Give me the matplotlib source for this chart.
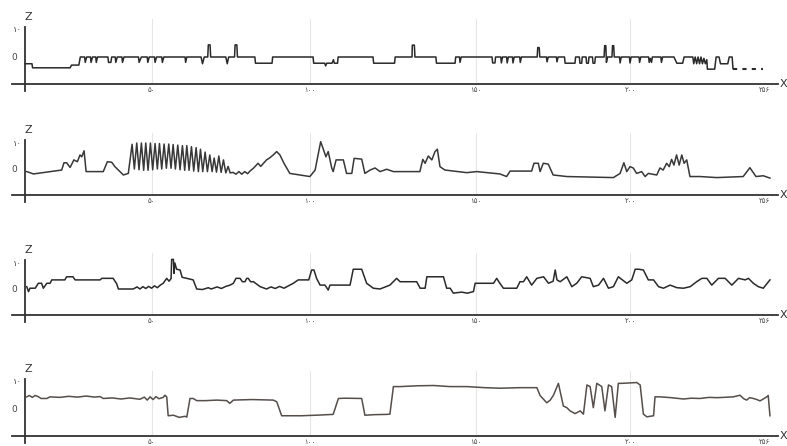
import matplotlib.pyplot as plt
import numpy as np

plt.rcParams['font.family'] = ['DejaVu Sans']

# x ticks (sample index positions as drawn) and Persian labels
tick_pos = [43.5, 98, 155, 208, 254]
tick_labels = ['۵۰', '۱۰۰', '۱۵۰', '۲۰۰', '۲۵۶']
ytick_vals = [10, 0]
ytick_labels = ['۱۰', '0']

# signal 1 (step-like)
s1 = [(0, -2.5), (2.4, -2.5), (2.6, -4), (15.5, -4), (16, -3), (18.5, -3), (19, 0),
      (20.5, 0), (20.7, -2), (21.2, 0), (22.5, 0), (22.7, -2), (23.2, 0), (24.3, 0), (24.5, -2), (24.9, 0),
      (28.5, 0), (28.7, -2), (29.5, -2), (29.8, 0), (31, 0), (31.2, -2), (31.7, 0), (33.3, 0), (33.5, -2), (34, 0),
      (39, 0), (39.2, -2), (40, 0), (42, 0), (42.2, -2), (42.7, 0), (44.5, 0), (44.7, -2), (45.2, 0),
      (47, 0), (47.2, -2), (47.7, 0), (55, 0), (55.2, -2), (55.6, 0), (60.5, 0), (61, -2.5), (61.6, 0),
      (62.8, 0), (63, 4.5), (63.6, 4.5), (63.8, 0), (69, 0), (69.5, -2.5), (70, 0),
      (72, 0), (72.2, 4.5), (72.8, 4.5), (73, 0), (79, 0), (79.2, -2.3), (84.9, -2.3), (85.1, 0),
      (99, 0), (99.2, -2.3), (103, -2.3), (103.3, -3.3), (103.7, -2.3), (105.5, -2.3), (106, -1),
      (106.3, -2.3), (107.4, -2.3), (107.6, 0), (119.6, 0), (119.8, -2.3), (127, -2.3), (127.2, 0),
      (133, 0), (133.1, 4.4), (133.8, 4.4), (134, 0), (141.2, 0), (141.4, -2.3), (147.8, -2.3), (148, 0),
      (149.3, 0), (149.5, -2), (149.9, 0),
      (160.5, 0), (160.7, -2.2), (161.5, -2.2), (161.7, 0), (163.5, 0), (163.7, -2.2), (164.1, 0),
      (165.5, 0), (165.7, -2.2), (166.1, 0), (167.5, 0), (167.7, -2.2), (168.1, 0), (170, 0), (170.2, -2), (170.6, 0),
      (176, 0), (176.2, 3.5), (176.7, 3.5), (176.9, 0), (179.2, 0), (179.4, -1.8), (179.8, 0),
      (182.6, 0), (182.8, -1.8), (183.2, 0), (185.4, 0), (185.6, -2.3), (189, -2.3), (189.2, 0),
      (190.5, 0), (190.7, -2.3), (191.3, -2.3), (191.5, 0), (192.8, 0), (193, -2.3), (193.6, -2.3), (193.8, 0),
      (195, 0), (195.2, -2.3), (195.8, -2.3), (196, 0),
      (199, 0), (199.2, 4.2), (199.6, 4.2), (199.8, -2), (200.2, 0), (201.7, 0), (201.9, 4.2), (202.3, 4.2), (202.5, 0),
      (204.3, 0), (204.5, -2.2), (204.9, 0), (207.7, 0), (207.9, -2.2), (208.3, 0), (211, 0), (211.2, -2), (211.6, 0),
      (214.3, 0), (214.5, -2), (214.9, -0.5), (215.3, -2), (215.6, 0), (218.5, 0), (218.7, -2), (219.1, 0),
      (223, 0), (224, -2.3), (226, -2.3), (226.5, 0),
      (229.5, 0), (229.8, -2.5), (230.3, 0), (230.8, -2.5), (231.3, 0), (231.8, -2.5), (232.3, 0),
      (232.8, -2.5), (233.3, -0.5), (233.8, -2.5), (234.3, -1), (234.5, -4.5), (237, -4.5),
      (237.5, 0), (238.5, 0), (239, -2.5), (241.5, -2.5), (242, 0), (243, 0), (243.3, -4.3)]
s1_tail = [(243.3, -4.3), (253.6, -4.3)]

# signal 2 (oscillating)
s2_head = [(0.6, -1), (2.9, -1.9), (12.6, -0.4), (13.4, 2.4), (14.3, 2.4), (15.5, 0.6), (16.8, 3.5),
           (18, 2.8), (18.9, 5.4), (19.5, 4.7), (20.3, 7.0), (21, -1), (26.9, -1), (28.3, 2.8),
           (29.8, 2.6), (30.9, 0.9), (33.8, -2.3), (35.5, -1.7)]
s2_peak_x = [36.8, 38.4, 40.0, 41.5, 43.1, 44.7, 46.2, 47.8, 49.4, 50.9, 52.5, 54.1, 55.6, 57.2, 58.8, 60.3, 61.9]
s2_peak_y = [9.5, 10, 10, 10, 10, 9.8, 9.8, 9.6, 9.6, 9.4, 9.2, 9.0, 9.0, 8.6, 8.2, 7.6, 6.5]
s2_trough_y = [0, -0.3, -0.5, -0.5, -0.3, 0, 0, 0.3, 0.3, 0, -0.3, -0.5, -0.5, -0.8, -1, -1, -1]
s2_tail = [(63.5, 5.4), (64.3, -1), (65, 4.2), (65.8, -1.2), (66.6, 5), (67.4, -1.3), (68.2, 3.5), (69, -1.5),
           (69.8, 1), (70.5, -1.5), (71.5, -1.3), (72.5, -2), (73.5, -1), (74.5, -2), (75.5, -1), (76.5, -1.8),
           (77.3, -0.8), (78.5, 0.3), (80.1, 2.2), (81, 1), (83, 3.5), (84, 4.2), (85.3, 5.4), (86.5, 6.7),
           (87.6, 5.4), (89, 2.2), (91, -1.7), (94.5, -2.3), (97.9, -2.9), (99.7, -0.4), (100.8, 6),
           (101.6, 10.5), (102.4, 8), (103.4, 4.7), (104.2, 6.7), (105.4, 0.4), (105.9, -1), (106.9, 3.5),
           (109.4, 3.5), (110.5, -1.7), (112.3, -1.7), (113.1, 4.1), (115.7, 3.8), (116.8, -1.7),
           (118.6, -0.4), (120.3, 0.4), (122, -1), (124.3, -0.1), (126.6, -1), (128.9, -1),
           (135.7, -1), (136.7, 3.7), (137.5, 2.2), (138.6, 5), (139.8, 3.5), (140.9, 6.7), (141.7, 7.6),
           (142.6, 0.9), (144.3, -0.4), (151.8, -1.4), (155.2, -1), (163.2, -1.9), (165.5, -2.9),
           (166.7, -0.8), (174.1, -0.8), (174.9, 2.2), (176.4, 2.2), (177, -1), (178.1, 2.2), (179.8, 1.9),
           (181.5, -2.3), (186.2, -2.9), (202.2, -3.3), (204.5, -1.7), (205.8, 2.4), (206.8, -1),
           (207.9, 0.9), (209, 0.4), (210.2, -1.7), (211.9, -1), (213.1, -2.9), (214.2, -1.7), (217.1, -2.3),
           (218.2, 0.4), (219.3, -0.4), (220.5, 2.2), (221.4, 0.9), (222.2, 3.7), (223, 1.5), (223.9, 5.4),
           (224.8, 1.5), (225.7, 5.4), (226.5, 2.2), (227.4, 3.5), (228.5, -2.9), (232, -2.9), (237.7, -3.3),
           (246.8, -2.9), (249.1, 0.5), (251.2, -2.9), (253.7, -2.6), (256, -3.5)]

# signal 3
s3 = [(0.6, 0.9), (1.2, -1), (1.7, 0.3), (3.5, 0.3), (4.6, 2.2), (5.7, 2.2), (6.3, 0.3), (7.5, 2.2),
      (8.6, 2.2), (9.2, 3.5), (13.7, 3.5), (14.3, 4.7), (16.5, 4.7), (17.2, 3.5), (25.8, 3.5), (26.4, 4.1),
      (30.3, 4.1), (31.5, 2), (32.1, 0), (37.2, 0), (38.5, 0.8), (39.5, 0), (40.5, 0.9), (41.5, 0.2),
      (42.5, 1), (43.5, 0.3), (44.5, 1.2), (45.5, 0.5), (46.5, 1.5), (47.5, 2.2), (48.7, 4.1), (49.5, 3),
      (50.2, 4), (50.4, 11.4), (51, 11.4), (51.2, 6), (51.5, 10), (52.1, 7.6), (53.3, 7.3), (54, 4.5),
      (55.6, 4.1), (57.8, 3.5), (59, 0), (61, -0.2), (63, 0.5), (64, 0), (66, 0.8), (67.5, 0.2), (69, 1),
      (70.5, 1.5), (71.6, 2.2), (72.5, 4.1), (73.9, 4.1), (74.7, 2.8), (75.6, 2.8), (76.2, 4.1), (76.7, 4.1),
      (77.5, 2.8), (78.5, 2.8), (80.8, 0.9), (83, 0), (84.5, 0.8), (86, 0.2), (87.5, 1), (89, 0.3),
      (90.5, 1.2), (92.2, 2.2), (93.9, 3.5), (97.5, 3.5), (98.5, 7.3), (99.3, 7.3), (100.2, 4.1),
      (101.4, 1.5), (103.1, 1.5), (104.2, -0.4), (104.8, 1.5), (111.7, 1.5), (112.8, 7.6), (115.7, 7.6),
      (117.4, 2.2), (119.7, 0.3), (122, 0), (125.4, 1.5), (127.7, 4.1), (128.9, 2.8), (134.6, 2.8),
      (135.8, 0.3), (137.5, 0.3), (138.1, 4.7), (143.8, 4.7), (144.9, 0.3), (146.1, 0.3), (147.2, -1.6),
      (150, -1.2), (152, -1.6), (154.1, -1), (154.7, 2.2), (161, 2.2), (162.1, 4.1), (163, 2.5),
      (164.4, 0.3), (169, 0.3), (170.1, 2.8), (171.3, 2.8), (172.4, 4.7), (174.1, 1.5), (175.9, 4.1),
      (178.2, 4.7), (179.9, 2.2), (181.5, 3), (182.2, 7.3), (182.8, 3.5), (183.9, 2.8), (186.2, 4.7),
      (187.9, 0.9), (189.6, 2.2), (191.3, 4.7), (194.2, 4.1), (195.3, 0.9), (197.1, 1.5), (198.8, 4.1),
      (200.5, 0.3), (202.2, 0.9), (203.9, 4.7), (206.8, 2.2), (208.5, 3.5), (209.7, 7.6), (211, 7.6),
      (212.5, 7.3), (214.2, 3.5), (216, 3.5), (217.7, 0.9), (219.4, 0.3), (221.7, 1.5), (224, 0.5),
      (226.3, 0.3), (228.6, 0.9), (230.8, 2.8), (232.6, 4.1), (234.3, 4.1), (236, 1.5), (238.3, 4.1),
      (240.6, 4.1), (242.9, 1.5), (245.2, 4.1), (247.5, 3.5), (248.6, 4.1), (250.3, 2.2), (252, 0.9),
      (253.7, 0.3), (256, 3.5)]

# signal 4
s4 = [(0.6, 4.5), (1.5, 5), (2.5, 4.3), (3.5, 5), (4.5, 4.6), (5.5, 3.9), (7.5, 3.9), (8.6, 4.5),
      (12, 4.3), (15, 4.7), (18, 4.4), (21, 4.8), (24, 4.4), (25.8, 4.6), (26.9, 3.9), (30, 4.1),
      (33, 3.7), (36, 4.1), (39.5, 3.6), (41, 4.4), (42, 3.3), (43, 4.5), (44, 3.5), (45, 4.6), (46, 3.8),
      (47.5, 4.3), (48.1, 5.1), (48.7, 4.5), (49.2, -2.5), (51, -2.3), (53, -3.1), (55, -2.7), (55.6, -3),
      (56.7, 3.9), (57.8, 3.9), (59, 3.1), (62, 3.1), (66, 3.3), (69.3, 3.1), (70.4, 2.1), (71.6, 3.3),
      (78, 3.5), (85.3, 3.3), (86.5, 2.7), (88.2, -2.5), (95, -2.5), (100, -2.3), (105.9, -2.0),
      (107.7, 3.9), (110, 4.0), (115.7, 3.9), (116.8, -2.3), (120, -2.1), (124.3, -2.0), (125.4, -1.9),
      (126.6, 8.3), (128.9, 8.3), (135, 8.6), (140.4, 8.7), (146, 8.3), (151.8, 8.3), (158, 7.9),
      (163.3, 7.7), (170, 7.9), (175.9, 7.9), (177, 5), (179.3, 2.3), (180.5, 3.3), (181.6, 5.1),
      (183.3, 9.5), (185, 1.1), (186.2, 0.5), (187.3, -0.7), (189, -1.7), (190.8, -0.7), (191.9, -1.9),
      (193.1, 8.9), (194.2, 8.3), (195.3, 0.5), (196.5, 9.5), (198.2, 8.3), (199.3, -0.7), (200.5, 8.9),
      (201.6, 8.3), (202.8, -3.1), (203.9, 9.5), (205.1, 9.5), (210.2, 9.8), (211.4, 8.9), (212.5, -1.9),
      (213.7, -2.9), (216, -2.5), (216.5, 4.5), (218.2, 4.5), (222, 4.2), (226.3, 3.7), (229, 4),
      (232, 3.9), (235, 4.3), (237.7, 4.2), (240, 4.3), (243.4, 4.5), (245.7, 5.1), (247, 3.8),
      (248, 3.3), (249, 4.2), (250.3, 3.9), (251.5, 3.5), (252.6, 3.0), (254.9, 4.5), (255.4, 5),
      (256, -2.5)]

# build signal 2 from its pieces
s2 = list(s2_head)
for px_, py_, ty_ in zip(s2_peak_x, s2_peak_y, s2_trough_y):
    s2.append((px_, py_))
    s2.append((px_ + 0.78, ty_))
s2 += s2_tail

series = [s1, s2, s3, s4]
line_colors = ['#2a2a2a', '#383838', '#2a2a2a', '#554e4b']

W, H = 787, 446
x0_px, xscale = 25, 2.91
zero_px = [57, 169, 289, 409]
yscale = [2.7, 2.6, 2.6, 2.7]

fig = plt.figure(figsize=(W / 100, H / 100), dpi=100)
fig.patch.set_facecolor('white')

for i, pts in enumerate(series):
    top = zero_px[i] - 20 * yscale[i]
    bot = zero_px[i] + 14 * yscale[i]
    ax = fig.add_axes([0, 1 - bot / H, 1, (bot - top) / H])
    ax.set_xlim(-x0_px / xscale, (W - x0_px) / xscale)
    ax.set_ylim(-14, 20)
    ax.axis('off')

    # faint scan grid at the tick positions
    for t in tick_pos[:-1]:
        ax.plot([t, t], [-10, 14], color='#e6e6e6', lw=0.8, zorder=0)

    arr = np.array(pts)
    ax.plot(arr[:, 0], arr[:, 1], color=line_colors[i], lw=1.1, zorder=3)
    if i == 0:
        tail = np.array(s1_tail)
        ax.plot(tail[:, 0], tail[:, 1], color=line_colors[i], lw=1.5,
                linestyle=(0, (2, 2.5)), zorder=3)

    # axes lines
    ax.plot([-4.5, 258.8], [-10, -10], color='#333333', lw=1.3, zorder=4)
    ax.plot([0, 0], [-12.5, 11], color='#333333', lw=1.3, zorder=4)
    ax.text(260.5, -10, 'X', ha='center', va='center', fontsize=8, color='#333333')
    ax.text(1.2, 15, 'Z', ha='center', va='center', fontsize=8, color='#333333')

    for t, lab in zip(tick_pos, tick_labels):
        ax.text(t, -11.0, lab, ha='center', va='top', fontsize=5, color='#444444')
    ax.text(-1.2, ytick_vals[0], ytick_labels[0], ha='right', va='center', fontsize=6, color='#444444')
    ax.text(-2.6, ytick_vals[1], ytick_labels[1], ha='right', va='center', fontsize=6.5, color='#444444')

fig.savefig('out.png', dpi=100, facecolor='white')
